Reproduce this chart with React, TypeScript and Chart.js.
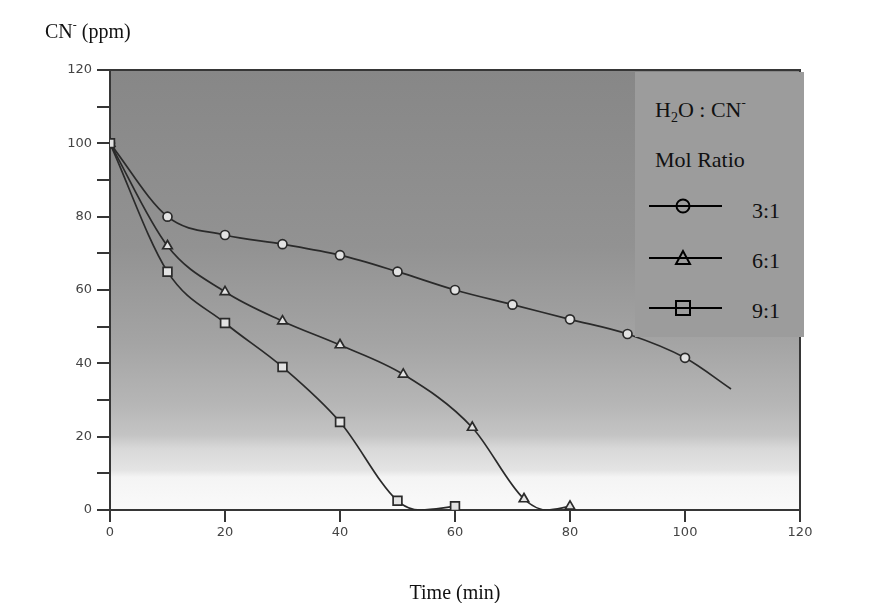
import React, { useEffect, useRef } from 'react';
import { Chart, registerables } from 'chart.js';

Chart.register(...registerables);

// Series 3:1 (circles)
const time31 = [0, 10, 20, 30, 40, 50, 60, 70, 80, 90, 100, 108];
const cn31 = [100, 80, 75, 72.5, 69.5, 65, 60, 56, 52, 48, 41.5, 33];
const mark31 = [1, 1, 1, 1, 1, 1, 1, 1, 1, 1, 1, 0];

// Series 6:1 (triangles)
const time61 = [0, 10, 20, 30, 40, 51, 63, 72, 76, 80];
const cn61 = [100, 72, 59.5, 51.5, 45, 37, 22.5, 3, 0, 1];
const mark61 = [1, 1, 1, 1, 1, 1, 1, 1, 0, 1];

// Series 9:1 (squares)
const time91 = [0, 10, 20, 30, 40, 50, 54, 60];
const cn91 = [100, 65, 51, 39, 24, 2.5, 0, 1];
const mark91 = [1, 1, 1, 1, 1, 1, 0, 1];

const xTickLabels = [0, 20, 40, 60, 80, 100, 120];
const yTickLabels = [0, 20, 40, 60, 80, 100, 120];

const seriesLabels = ['3:1', '6:1', '9:1'];

const AXIS = '#363636';
const LINE = '#2a2a2a';

const bgPlugin = {
  id: 'plotBackground',
  beforeDraw(chart: any) {
    const { ctx, chartArea: a } = chart;
    if (!a) return;
    const g = ctx.createLinearGradient(0, a.top, 0, a.bottom);
    g.addColorStop(0, '#878787');
    g.addColorStop(0.4, '#929292');
    g.addColorStop(0.62, '#a4a4a4');
    g.addColorStop(0.76, '#b6b6b6');
    g.addColorStop(0.83, '#c4c4c4');
    g.addColorStop(0.86, '#d8d8d8');
    g.addColorStop(0.91, '#e4e4e4');
    g.addColorStop(0.925, '#f4f4f4');
    g.addColorStop(1, '#fafafa');
    ctx.save();
    ctx.fillStyle = g;
    ctx.fillRect(a.left, a.top, a.width, a.height);
    ctx.strokeStyle = AXIS;
    ctx.lineWidth = 2;
    ctx.beginPath();
    ctx.moveTo(a.left, a.top);
    ctx.lineTo(a.right, a.top);
    ctx.lineTo(a.right, a.bottom);
    ctx.stroke();
    ctx.restore();
  },
};

function makeDataset(label: string, xs: number[], ys: number[], marks: number[], style: string, radius: number, order: number) {
  return {
    label,
    data: xs.map((x, i) => ({ x, y: ys[i] })),
    borderColor: LINE,
    borderWidth: 1.7,
    backgroundColor: '#e2e2e2',
    pointStyle: style,
    pointRadius: marks.map((m) => (m ? radius : 0)),
    pointBorderColor: LINE,
    pointBorderWidth: 1.7,
    pointBackgroundColor: '#e2e2e2',
    cubicInterpolationMode: 'monotone',
    fill: false,
    order,
  };
}

const serif = '"Liberation Serif", "Times New Roman", serif';

export default function App() {
  const ref = useRef<HTMLCanvasElement | null>(null);

  useEffect(() => {
    if (!ref.current) return;
    const chart = new Chart(ref.current, {
      type: 'line',
      data: {
        datasets: [
          makeDataset(seriesLabels[0], time31, cn31, mark31, 'circle', 4.5, 2),
          makeDataset(seriesLabels[1], time61, cn61, mark61, 'triangle', 5.5, 1),
          makeDataset(seriesLabels[2], time91, cn91, mark91, 'rect', 6.2, 0),
        ] as any,
      },
      options: {
        animation: false,
        responsive: false,
        devicePixelRatio: 1,
        layout: { padding: { left: 65, right: 94, top: 70, bottom: 53 } },
        plugins: { legend: { display: false }, tooltip: { enabled: false } },
        scales: {
          x: {
            type: 'linear',
            min: 0,
            max: 120,
            afterFit: (s: any) => { s.height = 40; },
            afterBuildTicks: (s: any) => { s.ticks = xTickLabels.map((v) => ({ value: v })); },
            ticks: {
              stepSize: 20,
              color: '#444',
              padding: 3,
              font: { family: '"DejaVu Sans", sans-serif', size: 13 },
              maxRotation: 0,
            },
            grid: { drawOnChartArea: false, drawTicks: true, tickLength: 12, color: AXIS, lineWidth: 2 },
            border: { display: true, color: AXIS, width: 2 },
          },
          y: {
            type: 'linear',
            min: 0,
            max: 120,
            afterFit: (s: any) => { s.width = 45; },
            ticks: {
              stepSize: 10,
              color: '#444',
              padding: 5,
              font: { family: '"DejaVu Sans", sans-serif', size: 13 },
              callback: (v: any) => (yTickLabels.includes(Number(v)) ? String(v) : ''),
            },
            grid: { drawOnChartArea: false, drawTicks: true, tickLength: 13, color: AXIS, lineWidth: 2 },
            border: { display: true, color: AXIS, width: 2 },
          },
        },
      } as any,
      plugins: [bgPlugin],
    });
    return () => chart.destroy();
  }, []);

  const textBase: React.CSSProperties = {
    position: 'absolute',
    fontFamily: serif,
    color: '#111',
    whiteSpace: 'nowrap',
  };

  const legendRowY = [134, 186, 236];
  const legendTextTop = [127.6, 177.6, 227.6];

  return (
    <div style={{ position: 'fixed', left: 0, top: 0, width: 894, height: 603, background: '#fff', overflow: 'hidden' }}>
      <canvas ref={ref} width={894} height={603} style={{ position: 'absolute', left: 0, top: 0, width: 894, height: 603 }} />
      <div style={{ ...textBase, left: 45, top: 21, fontSize: 20, lineHeight: '20px' }}>
        CN<span style={{ position: 'relative', top: -9, fontSize: 12 }}>-</span> (ppm)
      </div>
      <div style={{ ...textBase, left: 355, width: 200, textAlign: 'center', top: 582, fontSize: 20, lineHeight: '20px' }}>
        Time (min)
      </div>
      <div style={{ position: 'absolute', left: 635, top: 72, width: 169, height: 265, background: '#9c9c9c' }}>
        <div style={{ ...textBase, left: 20, top: 26.6, fontSize: 22, lineHeight: '22px' }}>
          H<span style={{ position: 'relative', top: 5, fontSize: 14 }}>2</span>O : CN
          <span style={{ position: 'relative', top: -10, fontSize: 13 }}>-</span>
        </div>
        <div style={{ ...textBase, left: 20, top: 76.6, fontSize: 22, lineHeight: '22px' }}>Mol Ratio</div>
        <svg width={169} height={265} style={{ position: 'absolute', left: 0, top: 0 }}>
          {legendRowY.map((y, i) => (
            <line key={'l' + i} x1={14} x2={87} y1={y} y2={y} stroke="#000" strokeWidth={2} />
          ))}
          <circle cx={48} cy={legendRowY[0]} r={6.5} fill="none" stroke="#000" strokeWidth={2} />
          <polygon
            points={`48,${legendRowY[1] - 7} ${41},${legendRowY[1] + 6} ${55},${legendRowY[1] + 6}`}
            fill="none"
            stroke="#000"
            strokeWidth={2}
          />
          <rect x={41} y={legendRowY[2] - 7} width={14} height={14} fill="none" stroke="#000" strokeWidth={2} />
        </svg>
        {seriesLabels.map((s, i) => (
          <div key={s} style={{ ...textBase, left: 117, top: legendTextTop[i], fontSize: 22, lineHeight: '22px' }}>
            {s}
          </div>
        ))}
      </div>
    </div>
  );
}
